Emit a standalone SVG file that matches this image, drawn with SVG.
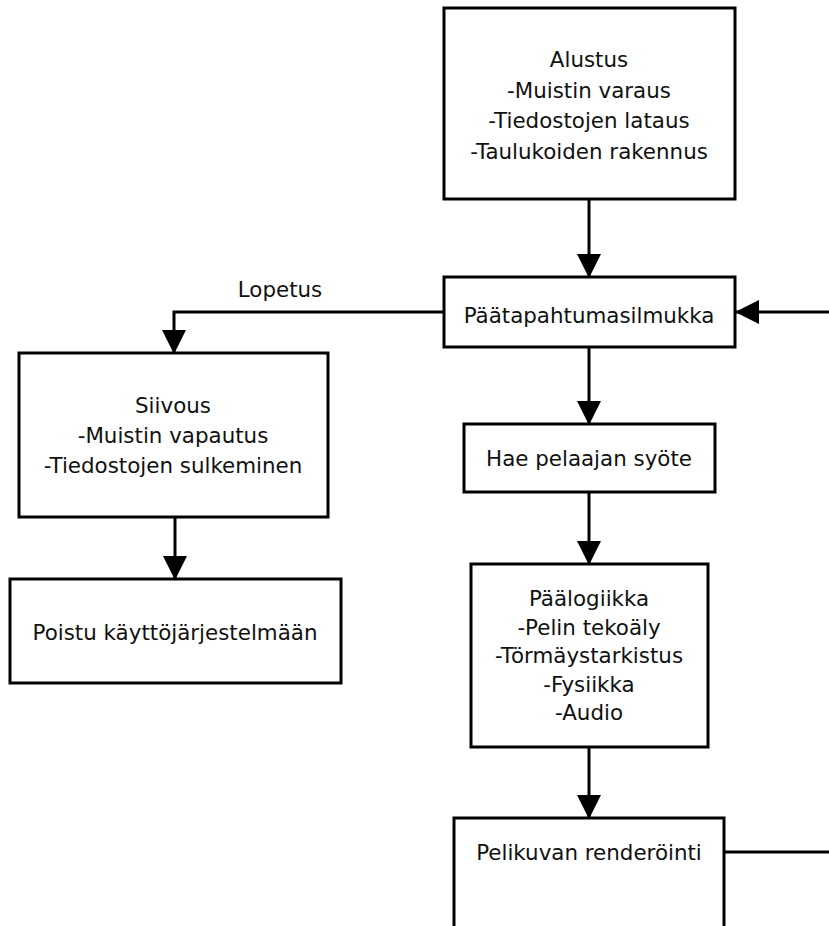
<svg xmlns="http://www.w3.org/2000/svg" width="829" height="926" viewBox="0 0 829 926">
<style>
.box{fill:#fff;stroke:#000;stroke-width:3}
.t{font-family:"DejaVu Sans","Verdana",sans-serif;font-size:21.4px;fill:#111;text-anchor:middle}
.c{fill:none;stroke:#000;stroke-width:3}
</style>
<defs>
<marker id="ah" markerUnits="userSpaceOnUse" markerWidth="24" markerHeight="24" refX="23" refY="12" orient="auto" viewBox="0 0 24 24">
<path d="M0,0 L24,12 L0,24 z" fill="#000"/>
</marker>
</defs>
<rect width="829" height="926" fill="#fff"/>
<g id="connectors">
<path class="c" d="M589,199 L589,277" marker-end="url(#ah)"/>
<path class="c" d="M444,312 L174,312 L174,353" marker-end="url(#ah)"/>
<path class="c" d="M175,517 L175,579" marker-end="url(#ah)"/>
<path class="c" d="M829,312 L736,312" marker-end="url(#ah)"/>
<path class="c" d="M589,347 L589,424" marker-end="url(#ah)"/>
<path class="c" d="M589,492 L589,564" marker-end="url(#ah)"/>
<path class="c" d="M589,747 L589,818" marker-end="url(#ah)"/>
<path class="c" d="M724,852 L829,852"/>
<text class="t" x="280" y="297">Lopetus</text>
</g>
<g id="alustus">
<rect class="box" x="444" y="8" width="291" height="191"/>
<text class="t" x="589" y="67">Alustus</text>
<text class="t" x="589" y="97.5">-Muistin varaus</text>
<text class="t" x="589" y="128">-Tiedostojen lataus</text>
<text class="t" x="589" y="158.5">-Taulukoiden rakennus</text>
</g>
<g id="paatapahtumasilmukka">
<rect class="box" x="444" y="277" width="291" height="70"/>
<text class="t" x="589" y="323">Päätapahtumasilmukka</text>
</g>
<g id="siivous">
<rect class="box" x="19" y="353" width="309" height="164"/>
<text class="t" x="173" y="413">Siivous</text>
<text class="t" x="173" y="443">-Muistin vapautus</text>
<text class="t" x="173" y="473">-Tiedostojen sulkeminen</text>
</g>
<g id="poistu">
<rect class="box" x="10" y="579" width="331" height="104"/>
<text class="t" x="175" y="640">Poistu käyttöjärjestelmään</text>
</g>
<g id="hae">
<rect class="box" x="464" y="424" width="251" height="68"/>
<text class="t" x="589" y="466">Hae pelaajan syöte</text>
</g>
<g id="paalogiikka">
<rect class="box" x="471" y="564" width="237" height="183"/>
<text class="t" x="589" y="606">Päälogiikka</text>
<text class="t" x="589" y="634.5">-Pelin tekoäly</text>
<text class="t" x="589" y="663">-Törmäystarkistus</text>
<text class="t" x="589" y="691.5">-Fysiikka</text>
<text class="t" x="589" y="720">-Audio</text>
</g>
<g id="pelikuvan">
<rect class="box" x="454" y="818" width="270" height="120"/>
<text class="t" x="589" y="860">Pelikuvan renderöinti</text>
</g>
</svg>
